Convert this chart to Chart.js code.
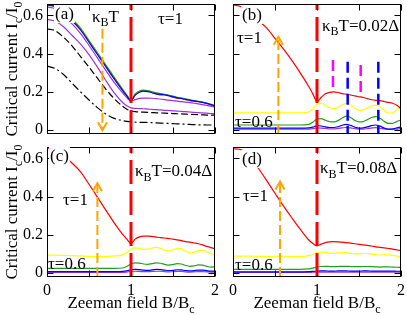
<!DOCTYPE html>
<html><head><meta charset="utf-8">
<script src="https://cdn.jsdelivr.net/npm/chart.js@4.4.1/dist/chart.umd.min.js"></script>
<style>
html,body{margin:0;padding:0;background:#fff;}
#wrap{position:relative;width:407px;height:315px;overflow:hidden;}
canvas{position:absolute;}
</style></head><body>
<div id="wrap">
<canvas id="pa" width="222" height="145" style="left:0;top:0"></canvas>
<canvas id="pb" width="185" height="145" style="left:222px;top:0"></canvas>
<canvas id="pc" width="222" height="170" style="left:0;top:145px"></canvas>
<canvas id="pd" width="185" height="170" style="left:222px;top:145px"></canvas>
</div>
<script>
// Zeeman field B/Bc
const fieldB = [0,0.1,0.2,0.3,0.4,0.5,0.6,0.7,0.8,0.9,0.95,1.0,1.05,1.1,1.15,1.2,1.25,1.3,1.35,1.4,1.45,1.5,1.55,1.6,1.65,1.7,1.75,1.8,1.85,1.9,1.95,2.0];
const xTicks = [0, 0.5, 1, 1.5, 2];
const yTicks = [0, 0.2, 0.4, 0.6];
const yMin = -0.02, yMax = 0.66;

// (a) tau=1, several temperatures
const aRed = [0.655,0.648,0.62,0.578,0.53,0.466,0.402,0.338,0.274,0.212,0.182,0.155,0.185,0.2,0.207,0.205,0.198,0.19,0.185,0.186,0.18,0.172,0.168,0.166,0.16,0.155,0.152,0.15,0.146,0.14,0.132,0.125];
const aYellow = [0.658,0.651,0.624,0.582,0.535,0.471,0.407,0.343,0.279,0.216,0.185,0.158,0.188,0.203,0.208,0.205,0.2,0.195,0.19,0.186,0.182,0.177,0.172,0.168,0.163,0.158,0.154,0.15,0.146,0.141,0.135,0.128];
const aGreen = [0.657,0.65,0.622,0.58,0.533,0.469,0.405,0.341,0.277,0.214,0.184,0.157,0.19,0.205,0.21,0.207,0.201,0.195,0.191,0.188,0.183,0.178,0.172,0.168,0.164,0.159,0.155,0.151,0.147,0.142,0.135,0.127];
const aBlue = [0.655,0.646,0.616,0.572,0.524,0.46,0.396,0.332,0.268,0.207,0.179,0.154,0.183,0.198,0.204,0.202,0.196,0.19,0.187,0.185,0.18,0.174,0.169,0.166,0.161,0.157,0.153,0.149,0.145,0.14,0.134,0.127];
const aViolet1 = [0.645,0.635,0.6,0.555,0.505,0.443,0.378,0.313,0.25,0.195,0.17,0.152,0.16,0.166,0.168,0.168,0.167,0.165,0.163,0.16,0.157,0.155,0.152,0.149,0.147,0.144,0.141,0.138,0.134,0.13,0.125,0.12];
const aViolet2 = [0.58,0.57,0.54,0.495,0.45,0.395,0.33,0.26,0.195,0.145,0.128,0.117,0.114,0.113,0.112,0.11,0.109,0.107,0.106,0.104,0.103,0.101,0.1,0.098,0.097,0.095,0.093,0.092,0.09,0.089,0.087,0.086];
const aDashed = [0.53,0.52,0.485,0.44,0.385,0.33,0.272,0.215,0.165,0.125,0.11,0.1,0.097,0.095,0.094,0.093,0.092,0.091,0.09,0.089,0.088,0.087,0.086,0.085,0.084,0.083,0.082,0.081,0.08,0.079,0.079,0.078];
const aDashDot = [0.335,0.322,0.29,0.245,0.2,0.158,0.118,0.085,0.062,0.05,0.046,0.043,0.042,0.041,0.041,0.04,0.039,0.038,0.037,0.036,0.035,0.034,0.033,0.032,0.031,0.03,0.029,0.028,0.028,0.027,0.027,0.026];

// (b) kT = 0.02
const bRed = [0.655,0.645,0.615,0.575,0.535,0.48,0.425,0.365,0.3,0.23,0.19,0.15,0.172,0.19,0.198,0.2,0.197,0.191,0.188,0.184,0.179,0.175,0.171,0.165,0.159,0.156,0.155,0.15,0.145,0.141,0.13,0.113];
const bYellow = [0.09,0.09,0.09,0.09,0.09,0.09,0.09,0.09,0.091,0.095,0.112,0.135,0.14,0.13,0.117,0.112,0.12,0.133,0.14,0.132,0.115,0.104,0.106,0.116,0.127,0.131,0.122,0.103,0.089,0.091,0.107,0.12];
const bGreen = [0.027,0.027,0.027,0.027,0.027,0.027,0.027,0.027,0.027,0.03,0.042,0.058,0.06,0.052,0.044,0.043,0.05,0.064,0.073,0.066,0.051,0.043,0.045,0.055,0.066,0.071,0.062,0.046,0.036,0.036,0.045,0.053];
const bBlue = [0.011,0.011,0.011,0.011,0.011,0.011,0.011,0.011,0.011,0.012,0.016,0.024,0.022,0.017,0.014,0.014,0.018,0.026,0.03,0.025,0.016,0.011,0.012,0.017,0.024,0.027,0.021,0.011,0.006,0.007,0.012,0.017];
const bViolet = [0.005,0.005,0.005,0.005,0.005,0.005,0.005,0.005,0.005,0.006,0.008,0.012,0.011,0.009,0.007,0.007,0.009,0.012,0.014,0.012,0.008,0.006,0.006,0.008,0.011,0.013,0.01,0.006,0.004,0.004,0.006,0.008];

// (c) kT = 0.04
const cRed = [0.655,0.648,0.615,0.575,0.53,0.465,0.398,0.33,0.263,0.203,0.178,0.155,0.178,0.19,0.194,0.194,0.192,0.189,0.186,0.184,0.181,0.178,0.174,0.17,0.165,0.162,0.158,0.154,0.148,0.14,0.134,0.128];
const cYellow = [0.094,0.094,0.093,0.092,0.09,0.088,0.087,0.088,0.09,0.096,0.108,0.125,0.132,0.13,0.125,0.126,0.132,0.135,0.13,0.12,0.116,0.122,0.13,0.127,0.115,0.106,0.108,0.118,0.12,0.112,0.1,0.096];
const cGreen = [0.025,0.025,0.025,0.025,0.025,0.025,0.025,0.025,0.025,0.027,0.035,0.048,0.054,0.053,0.048,0.046,0.05,0.054,0.052,0.046,0.042,0.045,0.05,0.048,0.04,0.036,0.038,0.043,0.042,0.036,0.032,0.033];
const cBlue = [0.008,0.008,0.008,0.008,0.008,0.008,0.008,0.008,0.008,0.009,0.012,0.018,0.02,0.019,0.016,0.015,0.017,0.02,0.019,0.016,0.014,0.015,0.018,0.017,0.014,0.012,0.013,0.016,0.016,0.013,0.011,0.011];
const cViolet = [0.004,0.004,0.004,0.004,0.004,0.004,0.004,0.004,0.004,0.004,0.006,0.009,0.01,0.009,0.008,0.008,0.009,0.01,0.01,0.008,0.007,0.008,0.009,0.009,0.007,0.006,0.007,0.008,0.008,0.007,0.006,0.006];

// (d) kT = 0.08
const dRed = [0.652,0.645,0.61,0.55,0.485,0.418,0.352,0.29,0.23,0.175,0.155,0.143,0.152,0.16,0.164,0.165,0.164,0.162,0.16,0.157,0.154,0.151,0.148,0.145,0.142,0.138,0.135,0.132,0.129,0.126,0.122,0.118];
const dYellow = [0.089,0.089,0.089,0.088,0.087,0.086,0.086,0.087,0.088,0.092,0.098,0.108,0.11,0.108,0.105,0.104,0.106,0.108,0.107,0.104,0.101,0.101,0.103,0.103,0.1,0.096,0.095,0.096,0.096,0.093,0.089,0.086];
const dGreen = [0.02,0.02,0.02,0.02,0.02,0.02,0.02,0.02,0.02,0.022,0.026,0.032,0.035,0.036,0.035,0.034,0.035,0.036,0.036,0.035,0.034,0.034,0.035,0.035,0.034,0.033,0.032,0.033,0.033,0.032,0.031,0.03];
const dBlue = [0.007,0.007,0.007,0.007,0.007,0.007,0.007,0.007,0.007,0.008,0.009,0.011,0.012,0.012,0.011,0.011,0.012,0.012,0.012,0.011,0.011,0.011,0.012,0.012,0.011,0.011,0.011,0.011,0.011,0.011,0.01,0.01];
const dViolet = [0.004,0.004,0.004,0.004,0.004,0.004,0.004,0.004,0.004,0.004,0.005,0.006,0.006,0.006,0.006,0.006,0.006,0.006,0.006,0.006,0.006,0.006,0.006,0.006,0.006,0.006,0.006,0.006,0.006,0.005,0.005,0.005];

// guide lines
const critField = 1;
const arrowX = { pa: 0.66, pb: 0.54, pc: 0.6, pd: 0.56 };
const arrowFrom = { pa: 0.53, pb: yMin, pc: yMin, pd: yMin };
const arrowTo = { pa: 0.0, pb: 0.489, pc: 0.47, pd: 0.479 };
const magentaX = [1.19, 1.52], magentaTop = [0.367, 0.341], magentaBot = [0.21, 0.175];
const blueX = [1.365, 1.73], blueTop = [0.358, 0.358];

const FONT = "'Liberation Serif', 'Times New Roman', serif";
const RED = '#ff0000', YELLOW = '#ffff00', GREEN = '#1fa01f', BLUE = '#0000ff', VIOLET = '#a030e0', ORANGE = '#ffa500', MAGENTA = '#ff00ff';

const pts = arr => fieldB.map((x, i) => ({ x, y: arr[i] }));
const curve = (arr, color, extra) => Object.assign({ data: pts(arr), borderColor: color, borderWidth: 1.2, pointRadius: 0, cubicInterpolationMode: 'monotone' }, extra || {});
const vline = (x, y0, y1, color, w, dash) => ({ data: [{ x, y: y0 }, { x, y: y1 }], borderColor: color, borderWidth: w, borderDash: dash, pointRadius: 0 });
const arrow = id => Object.assign(vline(arrowX[id], arrowFrom[id], arrowTo[id], ORANGE, 2, [10, 4]), { arrowHead: true });
const critLine = () => vline(critField, yMin, yMax, RED, 3, [24, 7]);

// text annotations (dx, baseline dy relative to plot area)
const notes = {
  pa: [
    { parts: [['(a)']], dx: 8, dy: 15, bg: true },
    { parts: [['κ'], ['B', 1], ['T']], dx: 45, dy: 17.5 },
    { parts: [['τ=1']], dx: 111, dy: 20 }
  ],
  pb: [
    { parts: [['(b)']], dx: 9, dy: 16, bg: true },
    { parts: [['τ=1']], dx: 4, dy: 39 },
    { parts: [['κ'], ['B', 1], ['T=0.02Δ']], dx: 89, dy: 26.5 },
    { parts: [['τ=0.6']], dx: 2, dy: 122.5 }
  ],
  pc: [
    { parts: [['(c)']], dx: 3, dy: 14, bg: true },
    { parts: [['κ'], ['B', 1], ['T=0.04Δ']], dx: 88, dy: 29 },
    { parts: [['τ=1']], dx: 16, dy: 58 },
    { parts: [['τ=0.6']], dx: 1, dy: 122 }
  ],
  pd: [
    { parts: [['(d)']], dx: 9, dy: 17, bg: true },
    { parts: [['κ'], ['B', 1], ['T=0.08Δ']], dx: 87, dy: 26 },
    { parts: [['τ=1']], dx: 10, dy: 54 },
    { parts: [['τ=0.6']], dx: 2, dy: 123 }
  ]
};
const yTitle = [['Critical current I'], ['c', 1], ['/I'], ['0', 1]];
const xTitle = [['Zeeman field B/B'], ['c', 1]];

function richWidth(ctx, parts, size) {
  let w = 0;
  for (const [t, sub] of parts) {
    ctx.font = (sub ? Math.round(size * 0.68) : size) + 'px ' + FONT;
    w += ctx.measureText(t).width;
  }
  return w;
}
function drawRich(ctx, parts, x, y, size) {
  let cx = x;
  for (const [t, sub] of parts) {
    ctx.font = (sub ? Math.round(size * 0.68) : size) + 'px ' + FONT;
    ctx.fillText(t, cx, sub ? y + size * 0.28 : y);
    cx += ctx.measureText(t).width;
  }
}

const framePlugin = {
  id: 'frame',
  afterDatasetsDraw(chart) {
    const { ctx, chartArea: a, scales: { x, y } } = chart;
    const L = Math.round(a.left) + 0.5, R = Math.round(a.right) - 0.5;
    const T = Math.round(a.top) + 0.5, B = Math.round(a.bottom) - 0.5;
    ctx.save();
    // arrow heads
    chart.data.datasets.forEach((ds, i) => {
      if (!ds.arrowHead) return;
      const d = chart.getDatasetMeta(i).data;
      const p = d[d.length - 1], q = d[d.length - 2];
      const dir = Math.sign(p.y - q.y);
      ctx.strokeStyle = ds.borderColor; ctx.lineWidth = 2; ctx.setLineDash([]);
      ctx.beginPath();
      ctx.moveTo(p.x - 4.5, p.y - dir * 8);
      ctx.lineTo(p.x, p.y);
      ctx.lineTo(p.x + 4.5, p.y - dir * 8);
      ctx.stroke();
    });
    ctx.strokeStyle = '#000'; ctx.lineWidth = 1; ctx.setLineDash([]);
    ctx.strokeRect(L, T, R - L, B - T);
    ctx.beginPath();
    xTicks.forEach(v => {
      const px = Math.round(x.getPixelForValue(v)) + 0.5;
      ctx.moveTo(px, B); ctx.lineTo(px, B - 6);
      ctx.moveTo(px, T); ctx.lineTo(px, T + 6);
    });
    yTicks.forEach(v => {
      const py = Math.round(y.getPixelForValue(v)) + 0.5;
      ctx.moveTo(L, py); ctx.lineTo(L + 6, py);
      ctx.moveTo(R, py); ctx.lineTo(R - 6, py);
    });
    ctx.stroke();
    // annotations
    ctx.fillStyle = '#000'; ctx.textBaseline = 'alphabetic'; ctx.textAlign = 'left';
    (notes[chart.canvas.id] || []).forEach(n => {
      const size = 17;
      const tx = a.left + n.dx, ty = a.top + n.dy;
      if (n.bg) {
        const w = richWidth(ctx, n.parts, size);
        ctx.fillStyle = '#fff';
        ctx.fillRect(tx - 1, ty - 14, w + 2, 18);
        ctx.fillStyle = '#000';
      }
      drawRich(ctx, n.parts, tx, ty, size);
    });
    const id = chart.canvas.id;
    if (id === 'pa' || id === 'pc') {
      const w = richWidth(ctx, yTitle, 17);
      ctx.save();
      ctx.translate(17, (a.top + a.bottom) / 2);
      ctx.rotate(-Math.PI / 2);
      drawRich(ctx, yTitle, -w / 2, 0, 17);
      ctx.restore();
    }
    if (id === 'pc' || id === 'pd') {
      const w = richWidth(ctx, xTitle, 17);
      drawRich(ctx, xTitle, (a.left + a.right) / 2 - w / 2, a.bottom + 31, 17);
    }
    ctx.restore();
  }
};

function panel(id, datasets, o) {
  return new Chart(document.getElementById(id), {
    type: 'line',
    data: { datasets },
    options: {
      responsive: false,
      animation: false,
      layout: { padding: { top: o.top, right: o.right, left: 0, bottom: 0 } },
      plugins: { legend: { display: false }, tooltip: { enabled: false } },
      scales: {
        x: {
          type: 'linear', min: 0, max: 2,
          grid: { display: false, drawTicks: false }, border: { display: false },
          ticks: { display: o.showX, padding: 4, color: '#000', font: { family: FONT, size: 16 }, maxRotation: 0, autoSkip: false,
            callback: v => Number.isInteger(v) ? String(v) : '' },
          afterBuildTicks: s => { s.ticks = xTicks.map(v => ({ value: v })); },
          afterFit: s => { s.height = o.xh; s.paddingLeft = 0; s.paddingRight = 0; }
        },
        y: {
          type: 'linear', min: yMin, max: yMax,
          grid: { display: false, drawTicks: false }, border: { display: false },
          ticks: { display: o.showY, padding: 4, color: '#000', font: { family: FONT, size: 16 },
            callback: v => v === 0 ? '0' : v.toFixed(1) },
          afterBuildTicks: s => { s.ticks = yTicks.map(v => ({ value: v })); },
          afterFit: s => { s.width = o.yw; s.paddingTop = 0; s.paddingBottom = 0; }
        }
      }
    },
    plugins: [framePlugin]
  });
}

const lower = (r, y, g, b, v) => [curve(r, RED), curve(y, YELLOW), curve(g, GREEN), curve(b, BLUE), curve(v, VIOLET)];

panel('pa', [
  arrow('pa'), critLine(),
  curve(aBlue, BLUE), curve(aGreen, GREEN), curve(aYellow, YELLOW), curve(aRed, RED),
  curve(aViolet1, VIOLET), curve(aViolet2, VIOLET),
  curve(aDashed, '#000', { borderDash: [7, 3] }),
  curve(aDashDot, '#000', { borderDash: [8, 3, 2, 3] })
], { top: 4, right: 7, yw: 47, xh: 11, showX: false, showY: true });

panel('pb', [
  critLine(),
  vline(blueX[0], blueTop[0], yMin, BLUE, 2.5, [11, 5]),
  vline(blueX[1], blueTop[1], yMin, BLUE, 2.5, [11, 5]),
  vline(magentaX[0], magentaTop[0], magentaBot[0], MAGENTA, 2.5, [11, 5]),
  vline(magentaX[1], magentaTop[1], magentaBot[1], MAGENTA, 2.5, [11, 5]),
  arrow('pb')
].concat(lower(bRed, bYellow, bGreen, bBlue, bViolet)),
  { top: 4, right: 6, yw: 11, xh: 11, showX: false, showY: false });

panel('pc', [critLine(), arrow('pc')].concat(lower(cRed, cYellow, cGreen, cBlue, cViolet)),
  { top: 2, right: 7, yw: 47, xh: 38, showX: true, showY: true });

panel('pd', [critLine(), arrow('pd')].concat(lower(dRed, dYellow, dGreen, dBlue, dViolet)),
  { top: 2, right: 6, yw: 11, xh: 38, showX: true, showY: false });
</script>
</body></html>
